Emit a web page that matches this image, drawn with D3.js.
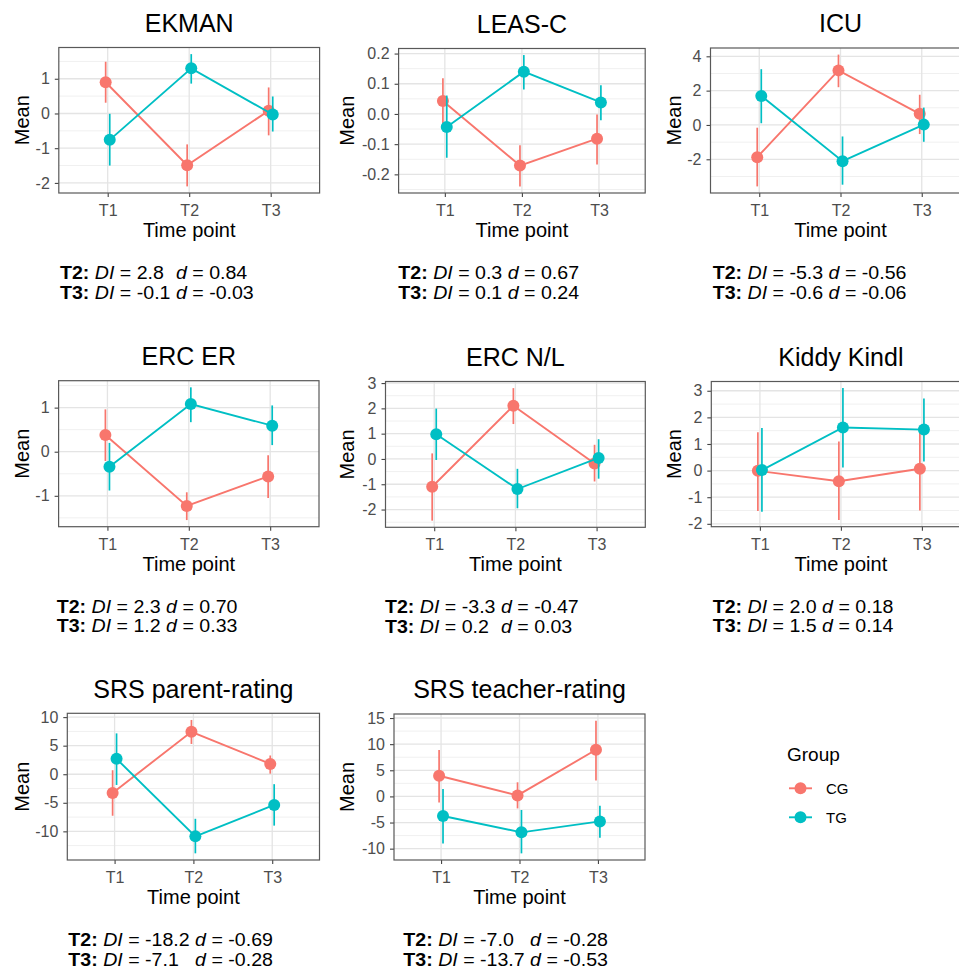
<!DOCTYPE html>
<html>
<head>
<meta charset="utf-8">
<style>
  body { margin:0; background:#fff; }
  svg { display:block; font-family:"Liberation Sans", Arial, sans-serif; }
</style>
<script src="https://d3js.org/d3.v7.min.js"></script>
</head>
<body>
<script>

var width = 959;
var height = 969;

// ---- data ----
var titles = ["EKMAN", "LEAS-C", "ICU", "ERC ER", "ERC N/L", "Kiddy Kindl", "SRS parent-rating", "SRS teacher-rating"];
var timePoints = ["T1", "T2", "T3"];
var groups = ["CG", "TG"];

var cgMean = [[0.90, -1.49, 0.08], [0.043, -0.171, -0.082], [-1.88, 3.18, 0.65], [0.38, -1.23, -0.56],
              [-1.10, 2.10, -0.18], [-0.01, -0.40, 0.07], [-3.27, 7.43, 1.81], [3.95, 0.19, 8.92]];
var cgLow  = [[0.31, -2.10, -0.63], [-0.033, -0.240, -0.167], [-3.58, 2.20, -0.53], [-0.21, -1.55, -1.05],
              [-2.44, 1.38, -0.89], [-1.52, -1.86, -1.50], [-7.27, 5.30, 0.10], [-1.17, -2.30, 3.05]];
var cgHigh = [[1.49, -0.89, 0.75], [0.118, -0.104, -0.002], [-0.16, 4.10, 1.76], [0.96, -0.92, -0.08],
              [0.22, 2.80, 0.56], [1.44, 1.09, 1.54], [0.70, 9.50, 3.28], [8.86, 2.70, 14.50]];
var tgMean = [[-0.76, 1.30, -0.03], [-0.043, 0.140, 0.038], [1.69, -2.11, 0.02], [-0.34, 1.08, 0.59],
              [0.98, -1.19, 0.04], [0.02, 1.62, 1.54], [2.69, -10.88, -5.38], [-3.76, -6.88, -4.78]];
var tgLow  = [[-1.50, 0.86, -0.52], [-0.145, 0.081, -0.021], [0.10, -3.48, -0.98], [-0.88, 0.67, 0.15],
              [-0.04, -1.95, -0.78], [-1.55, 0.12, 0.34], [-1.88, -13.85, -9.00], [-9.00, -10.90, -7.90]];
var tgHigh = [[-0.01, 1.71, 0.49], [0.061, 0.195, 0.095], [3.25, -0.67, 1.01], [0.20, 1.46, 1.05],
              [1.99, -0.39, 0.78], [1.60, 3.10, 2.71], [7.15, -7.80, -1.74], [1.40, -2.60, -1.80]];

var yTicks = [[-2, -1, 0, 1], [-0.2, -0.1, 0, 0.1, 0.2], [-2, 0, 2, 4], [-1, 0, 1],
              [-2, -1, 0, 1, 2, 3], [-2, -1, 0, 1, 2, 3], [-10, -5, 0, 5, 10], [-10, -5, 0, 5, 10, 15]];

var diT2 = ["2.8", "0.3", "-5.3", "2.3", "-3.3", "2.0", "-18.2", "-7.0"];
var dT2  = ["0.84", "0.67", "-0.56", "0.70", "-0.47", "0.18", "-0.69", "-0.28"];
var diT3 = ["-0.1", "0.1", "-0.6", "1.2", "0.2", "1.5", "-7.1", "-13.7"];
var dT3  = ["-0.03", "0.24", "-0.06", "0.33", "0.03", "0.14", "-0.28", "-0.53"];

// ---- layout (pixel boxes of the panels) ----
var layout = [
  {left: 58.8,  right: 319.6, top: 47.5,  bottom: 193,   meanX: 29,    annX: 60},
  {left: 398.6, right: 645.2, top: 48.5,  bottom: 193,   meanX: 354,   annX: 398.3},
  {left: 710.5, right: 970.5, top: 48,    bottom: 193,   meanX: 680.5, annX: 712.7},
  {left: 58.6,  right: 319,   top: 380.7, bottom: 526.7, meanX: 29,    annX: 56.7},
  {left: 385.5, right: 645.3, top: 381.5, bottom: 527.3, meanX: 354,   annX: 385},
  {left: 711.3, right: 970.5, top: 381.5, bottom: 526.7, meanX: 680.5, annX: 712.7},
  {left: 67.3,  right: 319.5, top: 713.3, bottom: 860,   meanX: 29,    annX: 68.3},
  {left: 394,   right: 645,   top: 714,   bottom: 860,   meanX: 354,   annX: 403.3}
];

var color = d3.scaleOrdinal().domain(groups).range(["#F8766D", "#00BFC4"]);
var annSize = 17.5, annStretch = 1.12, annGap = 19.7;

var svg = d3.select("body").append("svg")
    .attr("width", width)
    .attr("height", height);

function fmt(v, dec) {
  return d3.format(dec ? ".1f" : "d")(v).replace("\u2212", "-");
}

function drawPanel(i) {
  var L = layout[i];
  var x = d3.scalePoint().domain(timePoints).range([L.left, L.right]).padding(0.6);
  var all = cgLow[i].concat(cgHigh[i], tgLow[i], tgHigh[i]);
  var ext = d3.extent(all), r = ext[1] - ext[0];
  var y = d3.scaleLinear().domain([ext[0] - 0.05 * r, ext[1] + 0.05 * r]).range([L.bottom, L.top]);
  var ticks = yTicks[i];
  var dec = ticks.some(function(t) { return t % 1 !== 0; });
  var g = svg.append("g");

  // minor grid
  var step = ticks[1] - ticks[0];
  var minors = [];
  for (var k = -1; k < ticks.length; k++) {
    var m = ticks[0] + step * (k + 0.5);
    if (m > y.domain()[0] && m < y.domain()[1]) minors.push(m);
  }
  g.selectAll(".minor").data(minors).enter().append("line")
      .attr("x1", L.left).attr("x2", L.right)
      .attr("y1", y).attr("y2", y)
      .attr("stroke", "#f0f0f0").attr("stroke-width", 1);
  g.selectAll(".major").data(ticks).enter().append("line")
      .attr("x1", L.left).attr("x2", L.right)
      .attr("y1", y).attr("y2", y)
      .attr("stroke", "#e4e4e4").attr("stroke-width", 1.3);
  g.selectAll(".vmajor").data(timePoints).enter().append("line")
      .attr("x1", x).attr("x2", x)
      .attr("y1", L.top).attr("y2", L.bottom)
      .attr("stroke", "#e4e4e4").attr("stroke-width", 1.3);

  // axes
  var ya = g.append("g").attr("transform", "translate(" + L.left + ",0)")
      .call(d3.axisLeft(y).tickValues(ticks).tickSize(4).tickPadding(5)
            .tickFormat(function(d) { return fmt(d, dec); }));
  var xa = g.append("g").attr("transform", "translate(0," + L.bottom + ")")
      .call(d3.axisBottom(x).tickSize(4).tickPadding(7.5));
  [ya, xa].forEach(function(a) {
    a.select(".domain").remove();
    a.selectAll("line").attr("stroke", "#444").attr("stroke-width", 1.1);
    a.selectAll("text").attr("fill", "#4d4d4d").style("font-size", "16px")
        .style("font-family", "'Liberation Sans', Arial, sans-serif");
  });

  // border
  g.append("rect")
      .attr("x", L.left).attr("y", L.top)
      .attr("width", L.right - L.left).attr("height", L.bottom - L.top)
      .attr("fill", "none").attr("stroke", "#595959").attr("stroke-width", 1.2);

  // series
  var dodge = x.step() * 0.025;
  var series = [
    {key: "CG", mean: cgMean[i], low: cgLow[i], high: cgHigh[i], off: -dodge},
    {key: "TG", mean: tgMean[i], low: tgLow[i], high: tgHigh[i], off: dodge}
  ];
  series.forEach(function(s) {
    var pts = timePoints.map(function(t, j) {
      return {x: x(t) + s.off, m: s.mean[j], lo: s.low[j], hi: s.high[j]};
    });
    var sg = g.append("g");
    sg.selectAll(".err").data(pts).enter().append("line")
        .attr("x1", function(d) { return d.x; }).attr("x2", function(d) { return d.x; })
        .attr("y1", function(d) { return y(d.lo); }).attr("y2", function(d) { return y(d.hi); })
        .attr("stroke", color(s.key)).attr("stroke-width", 1.7);
    sg.append("path")
        .attr("d", d3.line().x(function(d) { return d.x; }).y(function(d) { return y(d.m); })(pts))
        .attr("fill", "none").attr("stroke", color(s.key)).attr("stroke-width", 1.9);
    sg.selectAll("circle").data(pts).enter().append("circle")
        .attr("cx", function(d) { return d.x; }).attr("cy", function(d) { return y(d.m); })
        .attr("r", 6).attr("fill", color(s.key));
  });

  var cx = (L.left + L.right) / 2;
  g.append("text").attr("x", cx).attr("y", L.top - 15.8)
      .attr("text-anchor", "middle").style("font-size", "25px").attr("fill", "#000")
      .text(titles[i]);
  g.append("text").attr("x", cx).attr("y", L.bottom + 44)
      .attr("text-anchor", "middle").style("font-size", "20px").attr("fill", "#000")
      .text("Time point");
  g.append("text")
      .attr("transform", "translate(" + L.meanX + "," + (L.top + L.bottom) / 2 + ") rotate(-90)")
      .attr("text-anchor", "middle").style("font-size", "20px").attr("fill", "#000")
      .text("Mean");

  // DI / d annotation, the "d" parts lined up under each other
  var lines = [["T2:", diT2[i], dT2[i]], ["T3:", diT3[i], dT3[i]]];
  var maxW = 0;
  lines.forEach(function(l, j) {
    var t = g.append("text")
        .attr("transform", "translate(" + L.annX + "," + (L.bottom + 86 + j * annGap) + ") scale(" + annStretch + ",1)")
        .style("font-size", annSize + "px").style("white-space", "pre").attr("fill", "#000");
    t.append("tspan").style("font-weight", "bold").text(l[0]);
    t.append("tspan").text(" ");
    t.append("tspan").style("font-style", "italic").text("DI");
    t.append("tspan").text(" = " + l[1]);
    maxW = Math.max(maxW, t.node().getComputedTextLength());
  });
  var dx = L.annX + (maxW + annSize * 0.278) * annStretch;
  lines.forEach(function(l, j) {
    var t = g.append("text")
        .attr("transform", "translate(" + dx + "," + (L.bottom + 86 + j * annGap) + ") scale(" + annStretch + ",1)")
        .style("font-size", annSize + "px").style("white-space", "pre").attr("fill", "#000");
    t.append("tspan").style("font-style", "italic").text("d");
    t.append("tspan").text(" = " + l[2]);
  });
}

d3.range(titles.length).forEach(drawPanel);

// legend
var lg = svg.append("g");
lg.append("text").attr("x", 787).attr("y", 761)
    .style("font-size", "19px").attr("fill", "#000").text("Group");
groups.forEach(function(gr, j) {
  var yy = 788.3 + j * 29;
  lg.append("line").attr("x1", 789).attr("x2", 812).attr("y1", yy).attr("y2", yy)
      .attr("stroke", color(gr)).attr("stroke-width", 1.9);
  lg.append("circle").attr("cx", 800.5).attr("cy", yy).attr("r", 6).attr("fill", color(gr));
  lg.append("text").attr("x", 826).attr("y", yy + 5.4)
      .style("font-size", "15px").attr("fill", "#000").text(gr);
});

</script>
</body>
</html>
